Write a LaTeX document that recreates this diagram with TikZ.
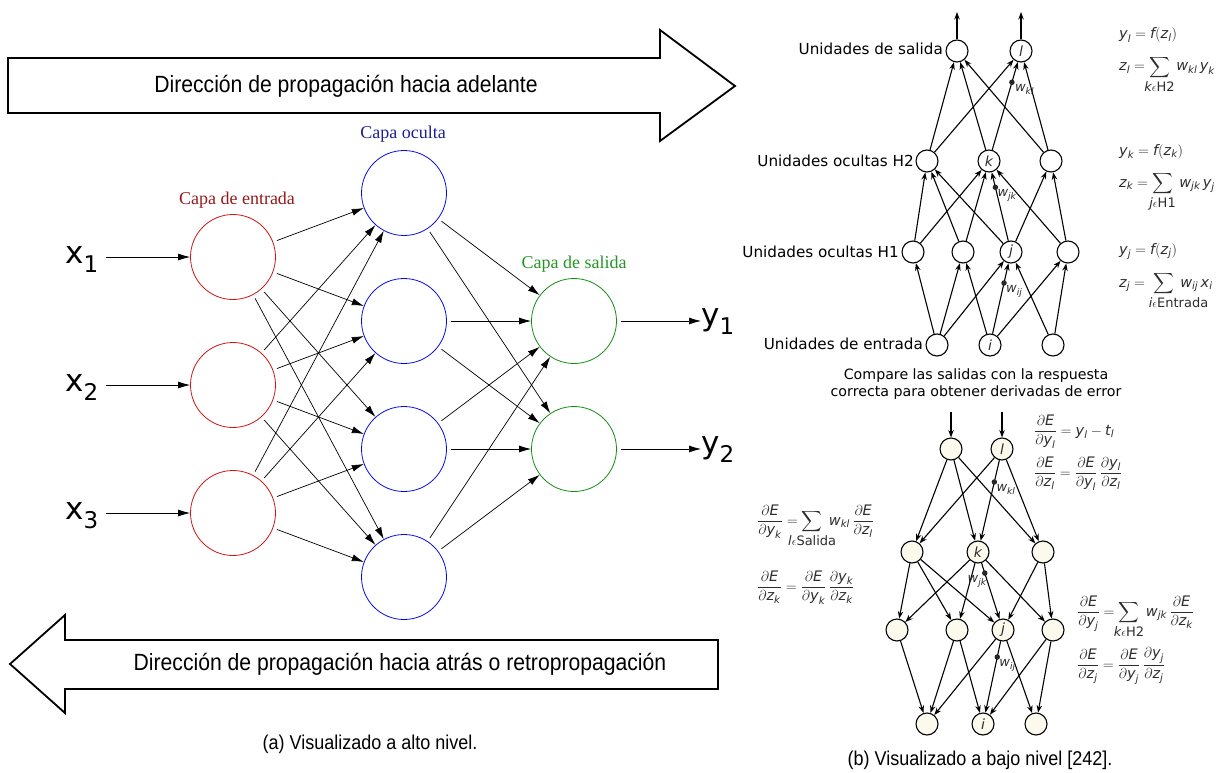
\documentclass[tikz,border=0pt]{standalone}
\usepackage{fontspec}
\usepackage{amsmath}
\setmainfont{Liberation Serif}
\newfontfamily\dvfont{DejaVu Sans}
\newfontfamily\narrowfont[FakeStretch=0.9]{Liberation Sans}
\usetikzlibrary{arrows.meta}

\definecolor{inred}{RGB}{204,20,20}
\definecolor{hidblue}{RGB}{10,10,225}
\definecolor{outgreen}{RGB}{20,140,20}
\definecolor{labred}{RGB}{150,25,25}
\definecolor{labblue}{RGB}{30,30,150}
\definecolor{labgreen}{RGB}{35,150,35}
\definecolor{cream}{RGB}{252,250,236}
\definecolor{formula}{RGB}{45,45,45}

% italic sans pieces inside formulas
\newcommand\iv[1]{\text{\dvfont\itshape #1}}
\newcommand\limtxt[1]{\text{\dvfont\fontsize{13}{13}\selectfont #1}}
\newcommand\limbox[2][0pt]{\makebox[0pt]{\hspace{#1}\limtxt{#2}}}
\newcommand\pd[2]{\frac{\partial #1}{\partial #2}}

\begin{document}
\begin{tikzpicture}[x=1pt,y=-1pt,
  bigarrow/.style={draw=black, line width=1.8pt, fill=white, line join=miter},
  arrtext/.style={font=\narrowfont\fontsize{23.5}{23.5}\selectfont},
  lcirc/.style={circle, minimum size=85pt, inner sep=0pt, line width=0.8pt},
  inlayer/.style={lcirc, draw=inred},
  hidlayer/.style={lcirc, draw=hidblue},
  outlayer/.style={lcirc, draw=outgreen},
  laylabel/.style={font=\fontsize{18}{18}\selectfont},
  conn/.style={-{Latex[length=12pt,width=7pt]}, line width=0.7pt, shorten <=4pt},
  iolabel/.style={font=\dvfont\fontsize{31}{31}\selectfont, inner sep=0pt},
  unitc/.style={circle, draw=black, line width=1.1pt, minimum size=22pt, inner sep=0pt,
    font=\dvfont\itshape\fontsize{14}{14}\selectfont, text=formula},
  bunit/.style={unitc, fill=cream},
  link/.style={-{Stealth[length=7.5pt,width=5.5pt]}, line width=1.1pt},
  wdot/.style={circle, fill=black!85, inner sep=0pt, minimum size=5.5pt},
  wlabel/.style={font=\fontsize{13}{13}\selectfont, text=formula, inner sep=0pt},
  rowlabel/.style={font=\dvfont\fontsize{15.2}{15.2}\selectfont, anchor=east, inner sep=0pt},
  fm/.style={font=\fontsize{14.5}{14.5}\selectfont, text=formula, inner sep=0pt, anchor=base west},
  captext/.style={font=\narrowfont\fontsize{20}{20}\selectfont}
]
\useasboundingbox (0,0) rectangle (1223,773);

% ---------------- (a) high-level view ----------------
\draw[bigarrow] (8,58) -- (660,58) -- (660,30) -- (735,86) -- (660,141) -- (660,113) -- (8,113) -- cycle;
\node[arrtext] (fwd) at (346,86) {Dirección de propagación hacia adelante};
\draw[bigarrow] (718,640) -- (65,640) -- (65,615) -- (10,664) -- (65,713) -- (65,689) -- (718,689) -- cycle;
\node[arrtext] (bwd) at (400,664) {Dirección de propagación hacia atrás o retropropagación};

\node[inlayer] (in1) at (233,257) {};
\node[inlayer] (in2) at (233,385) {};
\node[inlayer] (in3) at (233,513) {};
\node[hidlayer] (hd1) at (404,193) {};
\node[hidlayer] (hd2) at (404,321) {};
\node[hidlayer] (hd3) at (404,449) {};
\node[hidlayer] (hd4) at (404,577) {};
\node[outlayer] (ou1) at (574,321) {};
\node[outlayer] (ou2) at (574,449) {};

\node[laylabel, text=labred] (labin) at (237,200) {Capa de entrada};
\node[laylabel, text=labblue] (labhid) at (403,134) {Capa oculta};
\node[laylabel, text=labgreen] (labout) at (574,264) {Capa de salida};

\foreach \i in {1,2,3}{
  \foreach \h in {1,2,3,4}{
    \draw[conn] (in\i) -- (hd\h);
  }
}
\foreach \h in {1,2,3,4}{
  \foreach \o in {1,2}{
    \draw[conn] (hd\h) -- (ou\o);
  }
}

\foreach \n/\y in {1/257,2/385,3/513}{
  \node[iolabel, anchor=base west] (x\n) at (65,\y+6) {x\raisebox{-9pt}{\fontsize{23}{23}\selectfont \n}};
  \draw[conn, shorten <=0pt] (x\n.east |- in\n) ++(8,0) coordinate (xs\n) -- (in\n);
}
\foreach \n/\y in {1/321,2/449}{
  \node[iolabel, anchor=base west] (y\n) at (701,\y+4) {y\raisebox{-9pt}{\fontsize{23}{23}\selectfont \n}};
  \draw[conn] (ou\n) -- (y\n.west |- ou\n);
}

\node[captext] (capa) at (370,744) {(a) Visualizado a alto nivel.};

% ---------------- (b) low-level view: forward pass ----------------
\node[unitc] (o1) at (957,51) {};
\node[unitc] (ol) at (1021,51) {l};
\node[unitc] (ka) at (927,161) {};
\node[unitc] (kk) at (989,161) {k};
\node[unitc] (kc) at (1051,161) {};
\node[unitc] (ja) at (913,252) {};
\node[unitc] (jb) at (963,252) {};
\node[unitc] (jj) at (1011,252) {j};
\node[unitc] (jd) at (1068,252) {};
\node[unitc] (ia) at (937,345) {};
\node[unitc] (ii) at (990,345) {i};
\node[unitc] (ic) at (1053,345) {};

\coordinate (up1) at (957,12);
\coordinate (upl) at (1021,12);
\draw[link] (o1) -- (up1);
\draw[link] (ol) -- (upl);

\foreach \a/\b in {ia/ja, ia/jb, ia/jj, ii/jb, ii/jd, ic/jj, ic/jd,
                   ja/ka, ja/kk, jb/ka, jb/kk, jj/ka, jj/kc, jd/kk, jd/kc,
                   ka/o1, ka/ol, kk/o1, kc/o1, kc/ol}{
  \draw[link] (\a) -- (\b);
}
\draw[link] (ii) -- node[wdot, pos=0.72] (dij) {} (jj);
\draw[link] (jj) -- node[wdot, pos=0.78] (djk) {} (kk);
\draw[link] (kk) -- node[wdot, pos=0.77] (dkl) {} (ol);
\node[wlabel, anchor=north west] (lij) at ([shift={(2,2)}]dij.center) {$\iv{w}_{\iv{ij}}$};
\node[wlabel, anchor=north west] (ljk) at ([shift={(2,2)}]djk.center) {$\iv{w}_{\iv{jk}}$};
\node[wlabel, anchor=north west] (lkl) at ([shift={(3,2)}]dkl.center) {$\iv{w}_{\iv{kl}}$};

\node[rowlabel] (r1) at (943,49) {Unidades de salida};
\node[rowlabel] (r2) at (914,161) {Unidades ocultas H2};
\node[rowlabel] (r3) at (899,252) {Unidades ocultas H1};
\node[rowlabel] (r4) at (923,344) {Unidades de entrada};

\node[fm] (e1) at (1119,39) {$\displaystyle \iv{y}_{\iv{l}} = \iv{f}(\iv{z}_{\iv{l}})$};
\node[fm] (e2) at (1119,71) {$\displaystyle \iv{z}_{\iv{l}} = \sum\limits_{\limbox{\itshape k$\epsilon$\upshape H2}}\; \iv{w}_{\iv{kl}}\,\iv{y}_{\iv{k}}$};
\node[fm] (e3) at (1119,155) {$\displaystyle \iv{y}_{\iv{k}} = \iv{f}(\iv{z}_{\iv{k}})$};
\node[fm] (e4) at (1119,187) {$\displaystyle \iv{z}_{\iv{k}} = \sum\limits_{\limbox{\itshape j$\epsilon$\upshape H1}}\; \iv{w}_{\iv{jk}}\,\iv{y}_{\iv{j}}$};
\node[fm] (e5) at (1119,254) {$\displaystyle \iv{y}_{\iv{j}} = \iv{f}(\iv{z}_{\iv{j}})$};
\node[fm] (e6) at (1119,287) {$\displaystyle \iv{z}_{\iv{j}} = \;\sum\limits_{\limbox[30pt]{\itshape i$\epsilon$\upshape Entrada}}\; \iv{w}_{\iv{ij}}\,\iv{x}_{\iv{i}}$};

\node[font=\dvfont\fontsize{14.2}{17}\selectfont, align=center] (cmp) at (976,384)
  {Compare las salidas con la respuesta\\correcta para obtener derivadas de error};

% ---------------- (b) low-level view: backward pass ----------------
\node[bunit] (bo1) at (951,449) {};
\node[bunit] (bol) at (1002,449) {l};
\node[bunit] (bka) at (912,552) {};
\node[bunit] (bkk) at (978,552) {k};
\node[bunit] (bkc) at (1043,552) {};
\node[bunit] (bja) at (897,630) {};
\node[bunit] (bjb) at (957,630) {};
\node[bunit] (bjj) at (1003,630) {j};
\node[bunit] (bjd) at (1053,630) {};
\node[bunit] (bia) at (927,724) {};
\node[bunit] (bii) at (983,724) {i};
\node[bunit] (bic) at (1036,724) {};

\coordinate (dn1) at (951,412);
\coordinate (dnl) at (1002,412);
\draw[link] (dn1) -- (bo1);
\draw[link] (dnl) -- (bol);

\foreach \a/\b in {bo1/bka, bo1/bkk, bo1/bkc, bol/bka, bol/bkc,
                   bka/bja, bka/bjb, bka/bjj, bkk/bja, bkk/bjb, bkk/bjd, bkc/bjj, bkc/bjd,
                   bja/bia, bjb/bia, bjb/bii, bjj/bia, bjj/bic, bjd/bii, bjd/bic}{
  \draw[link] (\a) -- (\b);
}
\draw[link] (bol) -- node[wdot, pos=0.27] (bdkl) {} (bkk);
\draw[link] (bkk) -- node[wdot, pos=0.18] (bdjk) {} (bjj);
\draw[link] (bjj) -- node[wdot, pos=0.22] (bdij) {} (bii);
\node[wlabel, anchor=north west] (blkl) at ([shift={(2,2)}]bdkl.center) {$\iv{w}_{\iv{kl}}$};
\node[wlabel, anchor=north east] (bljk) at ([shift={(2,2)}]bdjk.center) {$\iv{w}_{\iv{jk}}$};
\node[wlabel, anchor=north west] (blij) at ([shift={(2,2)}]bdij.center) {$\iv{w}_{\iv{ij}}$};

\node[fm] (g1) at (1034,435) {$\displaystyle \pd{\iv{E}}{\iv{y}_{\iv{l}}} = \iv{y}_{\iv{l}} - \iv{t}_{\iv{l}}$};
\node[fm] (g2) at (1034,477) {$\displaystyle \pd{\iv{E}}{\iv{z}_{\iv{l}}} = \pd{\iv{E}}{\iv{y}_{\iv{l}}}\,\pd{\iv{y}_{\iv{l}}}{\iv{z}_{\iv{l}}}$};
\node[fm] (g3) at (757,525) {$\displaystyle \pd{\iv{E}}{\iv{y}_{\iv{k}}} = \sum\limits_{\limbox{\itshape l$\epsilon$\upshape Salida}}\; \iv{w}_{\iv{kl}}\,\pd{\iv{E}}{\iv{z}_{\iv{l}}}$};
\node[fm] (g4) at (757,591) {$\displaystyle \pd{\iv{E}}{\iv{z}_{\iv{k}}} = \pd{\iv{E}}{\iv{y}_{\iv{k}}}\,\pd{\iv{y}_{\iv{k}}}{\iv{z}_{\iv{k}}}$};
\node[fm] (g5) at (1077,616) {$\displaystyle \pd{\iv{E}}{\iv{y}_{\iv{j}}} = \sum\limits_{\limbox{\itshape k$\epsilon$\upshape H2}}\; \iv{w}_{\iv{jk}}\,\pd{\iv{E}}{\iv{z}_{\iv{k}}}$};
\node[fm] (g6) at (1077,669) {$\displaystyle \pd{\iv{E}}{\iv{z}_{\iv{j}}} = \pd{\iv{E}}{\iv{y}_{\iv{j}}}\,\pd{\iv{y}_{\iv{j}}}{\iv{z}_{\iv{j}}}$};

\node[captext] (capb) at (980,760) {(b) Visualizado a bajo nivel [242].};
\end{tikzpicture}
\end{document}
